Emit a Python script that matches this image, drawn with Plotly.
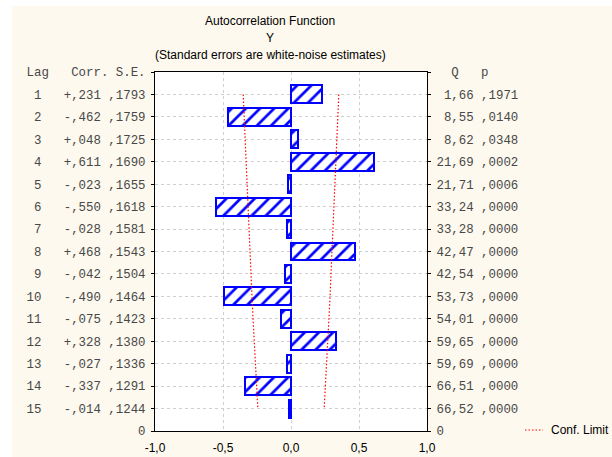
import plotly.graph_objects as go

# ---- data ----
lags = list(range(1, 16))
corr = [0.231, -0.462, 0.048, 0.611, -0.023, -0.550, -0.028, 0.468,
        -0.042, -0.490, -0.075, 0.328, -0.027, -0.337, -0.014]
se = [0.1793, 0.1759, 0.1725, 0.1690, 0.1655, 0.1618, 0.1581, 0.1543,
      0.1504, 0.1464, 0.1423, 0.1380, 0.1336, 0.1291, 0.1244]
q_stat = [1.66, 8.55, 8.62, 21.69, 21.71, 33.24, 33.28, 42.47,
          42.54, 53.73, 54.01, 59.65, 59.69, 66.51, 66.52]
p_val = [0.1971, 0.0140, 0.0348, 0.0002, 0.0006, 0.0000, 0.0000, 0.0000,
         0.0000, 0.0000, 0.0000, 0.0000, 0.0000, 0.0000, 0.0000]
x_ticks = [-1.0, -0.5, 0.0, 0.5, 1.0]
x_tick_labels = ["-1,0", "-0,5", "0,0", "0,5", "1,0"]
title_lines = ["Autocorrelation Function", "Y",
               "(Standard errors are white-noise estimates)"]
legend_label = "Conf. Limit"
conf_z = 1.96

NB = "\u00a0"
n = len(lags)
top = n + 1  # axis position of header row
pos = [top - l for l in lags]


def fmt_corr(v):
    return ("+" if v >= 0 else "-") + "," + f"{abs(v):.3f}"[2:]


def fmt_frac(v, d):
    return "," + f"{v:.{d}f}"[2:]


left_text = ["0"] + [
    (f"{l:>2}" + "   " + fmt_corr(c) + " " + fmt_frac(s, 4)).replace(" ", NB)
    for l, c, s in zip(lags, corr, se)
][::-1] + ["Lag   Corr. S.E.".replace(" ", NB)]
right_text = ["0"] + [
    (f"{q:5.2f}".replace(".", ",").rjust(5) + " " + fmt_frac(p, 4)).replace(" ", NB)
    for q, p in zip(q_stat, p_val)
][::-1] + ["  Q   p".replace(" ", NB)]
tick_pos = [0] + sorted(pos) + [top]

RED_DOT = "1.5px,2px"

fig = go.Figure()

fig.add_trace(go.Bar(
    orientation="h", x=corr, y=pos, width=0.8,
    marker=dict(color="white",
                line=dict(color="#0000ff", width=2),
                pattern=dict(shape="/", fgcolor="#0000ff", bgcolor="white",
                             fgopacity=1, size=10, solidity=0.27)),
    showlegend=False, hoverinfo="skip"))

upper = [conf_z * s for s in se]
lower = [-conf_z * s for s in se]
fig.add_trace(go.Scatter(x=lower, y=pos, mode="lines",
                         line=dict(color="#ff0000", width=1.2, dash=RED_DOT),
                         showlegend=False, hoverinfo="skip"))
fig.add_trace(go.Scatter(x=upper, y=pos, mode="lines",
                         line=dict(color="#ff0000", width=1.2, dash=RED_DOT),
                         showlegend=False, hoverinfo="skip"))
# invisible trace to anchor the right-hand axis
fig.add_trace(go.Scatter(x=[0], y=[0], yaxis="y2", mode="markers",
                         marker=dict(opacity=0), showlegend=False,
                         hoverinfo="skip"))

L, R, T, B = 155, 185, 72, 26
W, H = 612, 457
pw, ph = W - L - R, H - T - B


def px_x(x):
    return (x - L) / pw


def px_y(y):
    return (H - B - y) / ph


mono = dict(family="Liberation Mono, Courier New, monospace", size=12.4, color="#484848")
sans = "Liberation Sans, Arial, sans-serif"

fig.update_layout(
    template="none",
    width=W, height=H, autosize=False,
    margin=dict(l=L, r=R, t=T, b=B, pad=0),
    paper_bgcolor="#fdf9ee", plot_bgcolor="white",
    bargap=0,
    xaxis=dict(range=[-1, 1], tickvals=x_ticks, ticktext=x_tick_labels,
               automargin=False,
               showgrid=True, gridcolor="#cfcfcf", griddash="dot", gridwidth=1,
               zeroline=False, showline=True, linecolor="black", linewidth=1,
               mirror=True, ticks="", ticklabelstandoff=6,
               tickfont=dict(family=sans, size=12, color="black")),
    yaxis=dict(range=[0, top], tickvals=tick_pos, ticktext=left_text,
               automargin=False,
               showgrid=True, gridcolor="#cfcfcf", griddash="dot", gridwidth=1,
               zeroline=False, showline=True, linecolor="black", linewidth=1,
               mirror=True, ticks="outside", ticklen=3, tickcolor="black",
               ticklabelstandoff=3, tickfont=mono),
    yaxis2=dict(range=[0, top], overlaying="y", side="right",
                tickvals=tick_pos, ticktext=right_text, automargin=False,
                showgrid=False, zeroline=False, showline=False,
                ticks="outside", ticklen=3, tickcolor="black",
                ticklabelstandoff=3, tickfont=mono),
    showlegend=False,
    hovermode=False,
)

for t, ypx in zip(title_lines, [21, 38, 55]):
    fig.add_annotation(text=t, xref="paper", yref="paper",
                       x=px_x(270), y=px_y(ypx), xanchor="center",
                       yanchor="middle", showarrow=False,
                       font=dict(family=sans, size=12, color="black"))

# legend: dotted red sample + label
fig.add_shape(type="line", xref="paper", yref="paper",
              x0=px_x(525), x1=px_x(543), y0=px_y(430), y1=px_y(430),
              line=dict(color="#ff0000", width=1.2, dash=RED_DOT))
fig.add_annotation(text=legend_label, xref="paper", yref="paper",
                   x=px_x(549), y=px_y(430), xanchor="left", yanchor="middle",
                   showarrow=False,
                   font=dict(family=sans, size=12, color="black"))

# white border strips outside the cream panel
fig.add_shape(type="rect", xref="paper", yref="paper",
              x0=px_x(-5), x1=px_x(W + 5), y0=px_y(6), y1=px_y(-5),
              fillcolor="white", line=dict(width=0), layer="below")
fig.add_shape(type="rect", xref="paper", yref="paper",
              x0=px_x(-5), x1=px_x(12), y0=px_y(H + 5), y1=px_y(-5),
              fillcolor="white", line=dict(width=0), layer="below")

fig.write_html("out.html")
